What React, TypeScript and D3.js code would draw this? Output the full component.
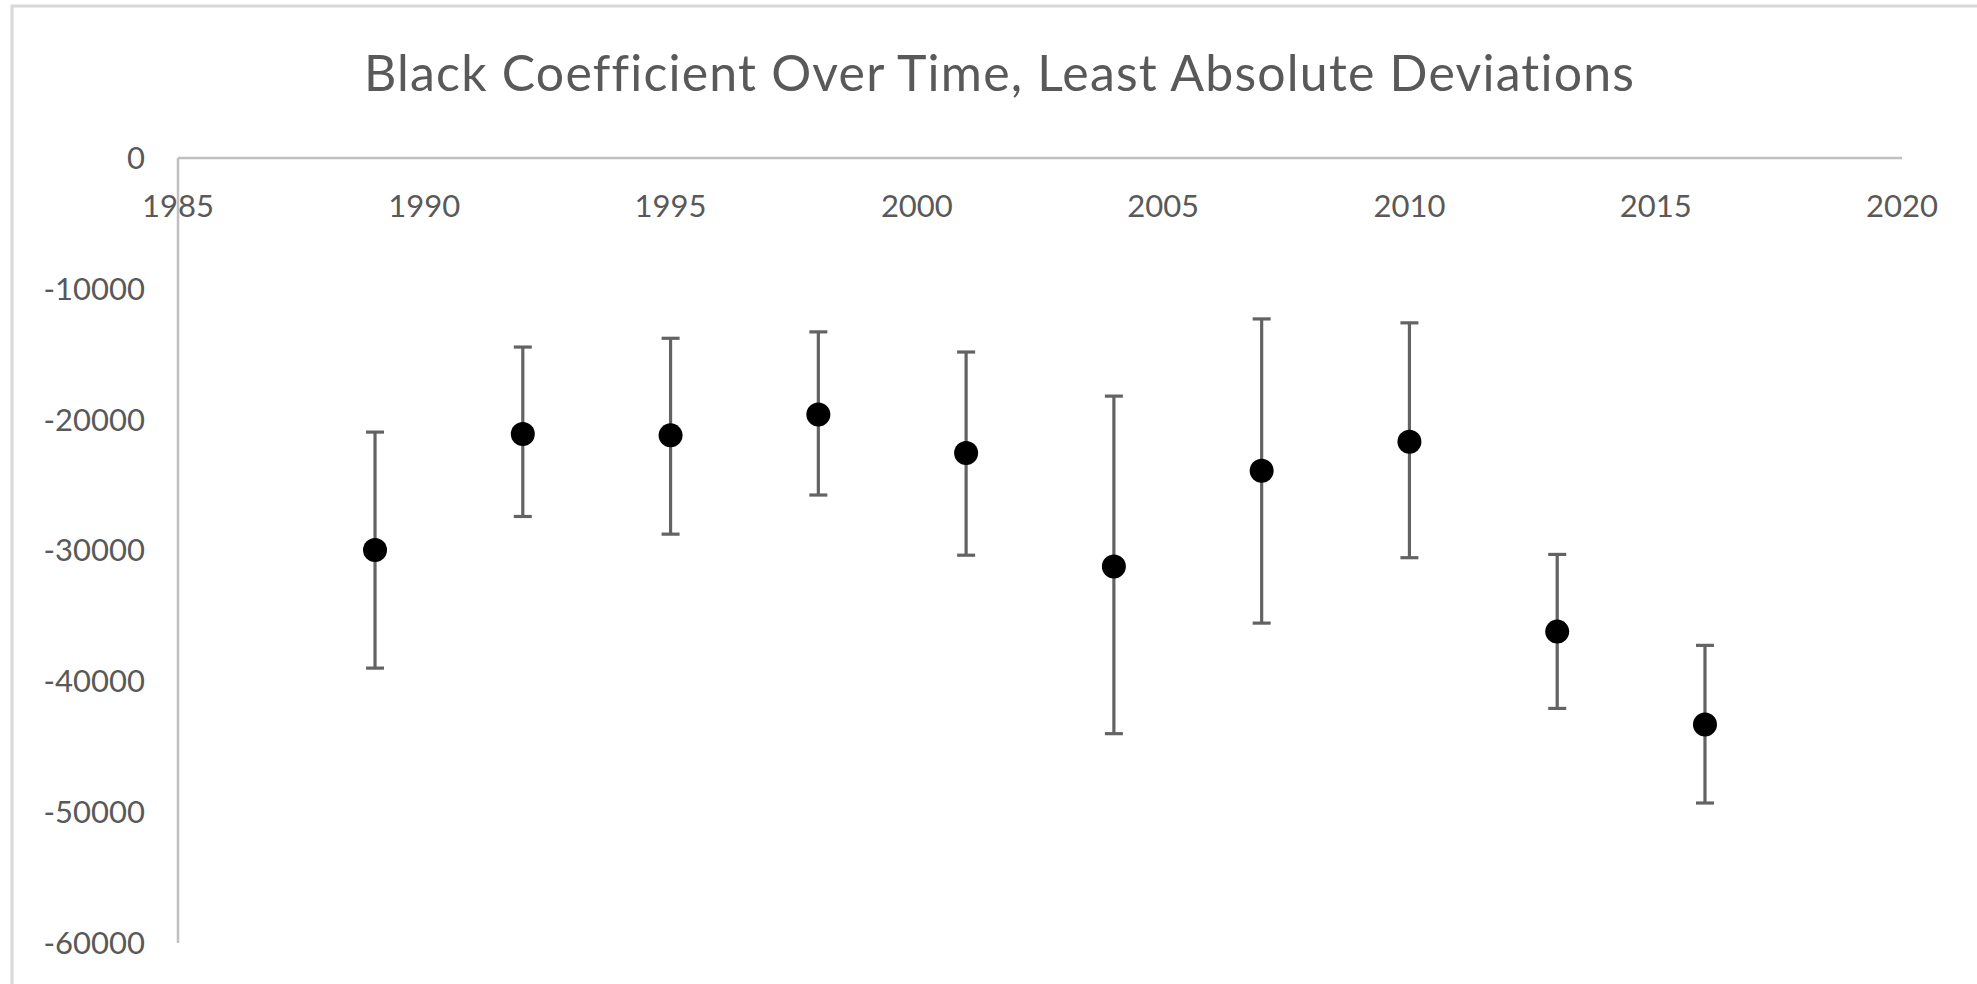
import React from "react";
import * as d3 from "d3";

// Survey years and the estimated coefficient with its confidence bounds
const years = [1989, 1992, 1995, 1998, 2001, 2004, 2007, 2010, 2013, 2016];
const coefficient = [-29970, -21100, -21200, -19600, -22550, -31220, -23900, -21680, -36200, -43300];
const upperBound = [-20950, -14450, -13780, -13290, -14830, -18200, -12300, -12600, -30300, -37250];
const lowerBound = [-38990, -27400, -28750, -25760, -30360, -44000, -35550, -30550, -42070, -49300];

const xTicks = [1985, 1990, 1995, 2000, 2005, 2010, 2015, 2020];
const yTicks = [0, -10000, -20000, -30000, -40000, -50000, -60000];

const title = "Black Coefficient Over Time, Least Absolute Deviations";

const W = 1977;
const H = 984;
const FONT = "Lato, 'Open Sans', sans-serif";
const TEXT = "#595959";
const AXIS = "#c0c0c0";
const BAR = "#636363";

export default function App() {
  const x = d3.scaleLinear().domain([1985, 2020]).range([178, 1902]);
  const y = d3.scaleLinear().domain([-60000, 0]).range([943, 158]);
  const capHalf = 9;

  return (
    <svg
      width={W}
      height={H}
      style={{ position: "absolute", left: 0, top: 0, background: "#fff", fontVariantLigatures: "none" }}
    >
      {/* chart frame */}
      <rect x={12} y={6} width={W + 20} height={H + 20} fill="#fff" stroke="#d9d9d9" strokeWidth={3} />

      <text
        x={999}
        y={91}
        textAnchor="middle"
        fontFamily={FONT}
        fontSize={50}
        fill={TEXT}
        textLength={1270}
        lengthAdjust="spacing"
        style={{ fontVariantLigatures: "none" }}
      >
        {title}
      </text>

      {/* y tick labels */}
      {yTicks.map((t) => (
        <text
          key={"y" + t}
          x={145}
          y={y(t)}
          dy="0.35em"
          textAnchor="end"
          fontFamily={FONT}
          fontSize={31}
          fill={TEXT}
        >
          {t}
        </text>
      ))}

      {/* x tick labels, hanging below the zero line */}
      {xTicks.map((t) => (
        <text
          key={"x" + t}
          x={x(t)}
          y={y(0) + 48}
          dy="0.35em"
          textAnchor="middle"
          fontFamily={FONT}
          fontSize={31}
          fill={TEXT}
        >
          {t}
        </text>
      ))}

      {/* axes */}
      <line x1={x(1985)} x2={x(2020)} y1={y(0)} y2={y(0)} stroke={AXIS} strokeWidth={2.5} />
      <line x1={x(1985)} x2={x(1985)} y1={y(0)} y2={y(-60000)} stroke={AXIS} strokeWidth={2.5} />

      {/* error bars */}
      {years.map((yr, i) => (
        <g key={"e" + yr} stroke={BAR} strokeWidth={3.2}>
          <line x1={x(yr)} x2={x(yr)} y1={y(upperBound[i])} y2={y(lowerBound[i])} />
          <line x1={x(yr) - capHalf} x2={x(yr) + capHalf} y1={y(upperBound[i])} y2={y(upperBound[i])} />
          <line x1={x(yr) - capHalf} x2={x(yr) + capHalf} y1={y(lowerBound[i])} y2={y(lowerBound[i])} />
        </g>
      ))}

      {/* point estimates */}
      {years.map((yr, i) => (
        <circle key={"p" + yr} cx={x(yr)} cy={y(coefficient[i])} r={12} fill="#000" />
      ))}
    </svg>
  );
}
